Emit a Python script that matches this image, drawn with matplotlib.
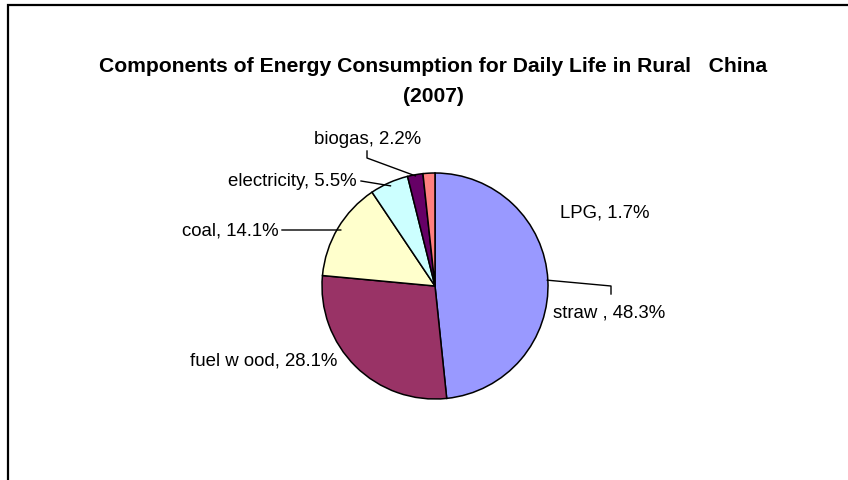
import numpy as np
import matplotlib
matplotlib.use("Agg")
import matplotlib.pyplot as plt

plt.rcParams['font.family'] = ['Liberation Sans', 'DejaVu Sans']

labels = ["straw ", "fuel w ood", "coal", "electricity", "biogas", "LPG"]
shares = [48.3, 28.1, 14.1, 5.5, 2.2, 1.7]
colors = ["#9999FF", "#993366", "#FFFFCC", "#CCFFFF", "#660066", "#FF8080"]

W, H = 848, 481
fig = plt.figure(figsize=(W / 100, H / 100), dpi=100)
ax = fig.add_axes([0, 0, 1, 1])

# pixel-like coords, y measured from the top of the picture
def py(y):
    return H - y

cx, cy, r = 435, py(287), 113
wedges, _ = ax.pie(shares, colors=colors, startangle=90, counterclock=False,
                   center=(cx, cy), radius=r,
                   wedgeprops=dict(edgecolor="black", linewidth=1.1))
ax.set_xlim(0, W)
ax.set_ylim(0, H)
ax.set_aspect("equal")
ax.axis("off")

def edge_point(w, k=1.0):
    mid = np.deg2rad((w.theta1 + w.theta2) / 2)
    return cx + k * r * np.cos(mid), cy + k * r * np.sin(mid)

# label placement: (x, y, ha)
place = {
    "straw ": (553, 313, "left"),
    "fuel w ood": (337, 361, "right"),
    "coal": (279, 231, "right"),
    "electricity": (357, 182, "right"),
    "biogas": (314, 139, "left"),
    "LPG": (560, 213, "left"),
}
for lab, val in zip(labels, shares):
    x, y, ha = place[lab]
    ax.text(x, py(y), f"{lab}, {val}%", ha=ha, va="center", fontsize=13.4,
            color="black")

lk = dict(color="black", lw=1.0)
# leader lines
ex, ey = edge_point(wedges[0], 0.995)
ax.plot([ex, 611, 611], [ey, py(287), py(295)], **lk)
ex, ey = edge_point(wedges[2], 0.97)
ax.plot([282, ex], [py(231), ey], **lk)
ex, ey = edge_point(wedges[3], 0.97)
ax.plot([361, ex], [py(182), ey], **lk)
ex, ey = edge_point(wedges[4], 0.99)
ax.plot([367, 367, ex], [py(152), py(159), ey], **lk)

ax.text(433, py(66), "Components of Energy Consumption for Daily Life in Rural   China",
        ha="center", va="center", fontsize=15.2, fontweight="bold")
ax.text(433, py(96), "(2007)", ha="center", va="center", fontsize=15.2,
        fontweight="bold")

# chart area border (only top and left visible)
ax.plot([8, 8, W + 5], [-5, py(6), py(6)], color="black", lw=1.6,
        solid_joinstyle="miter", clip_on=False)

fig.savefig("out.png", dpi=100)
